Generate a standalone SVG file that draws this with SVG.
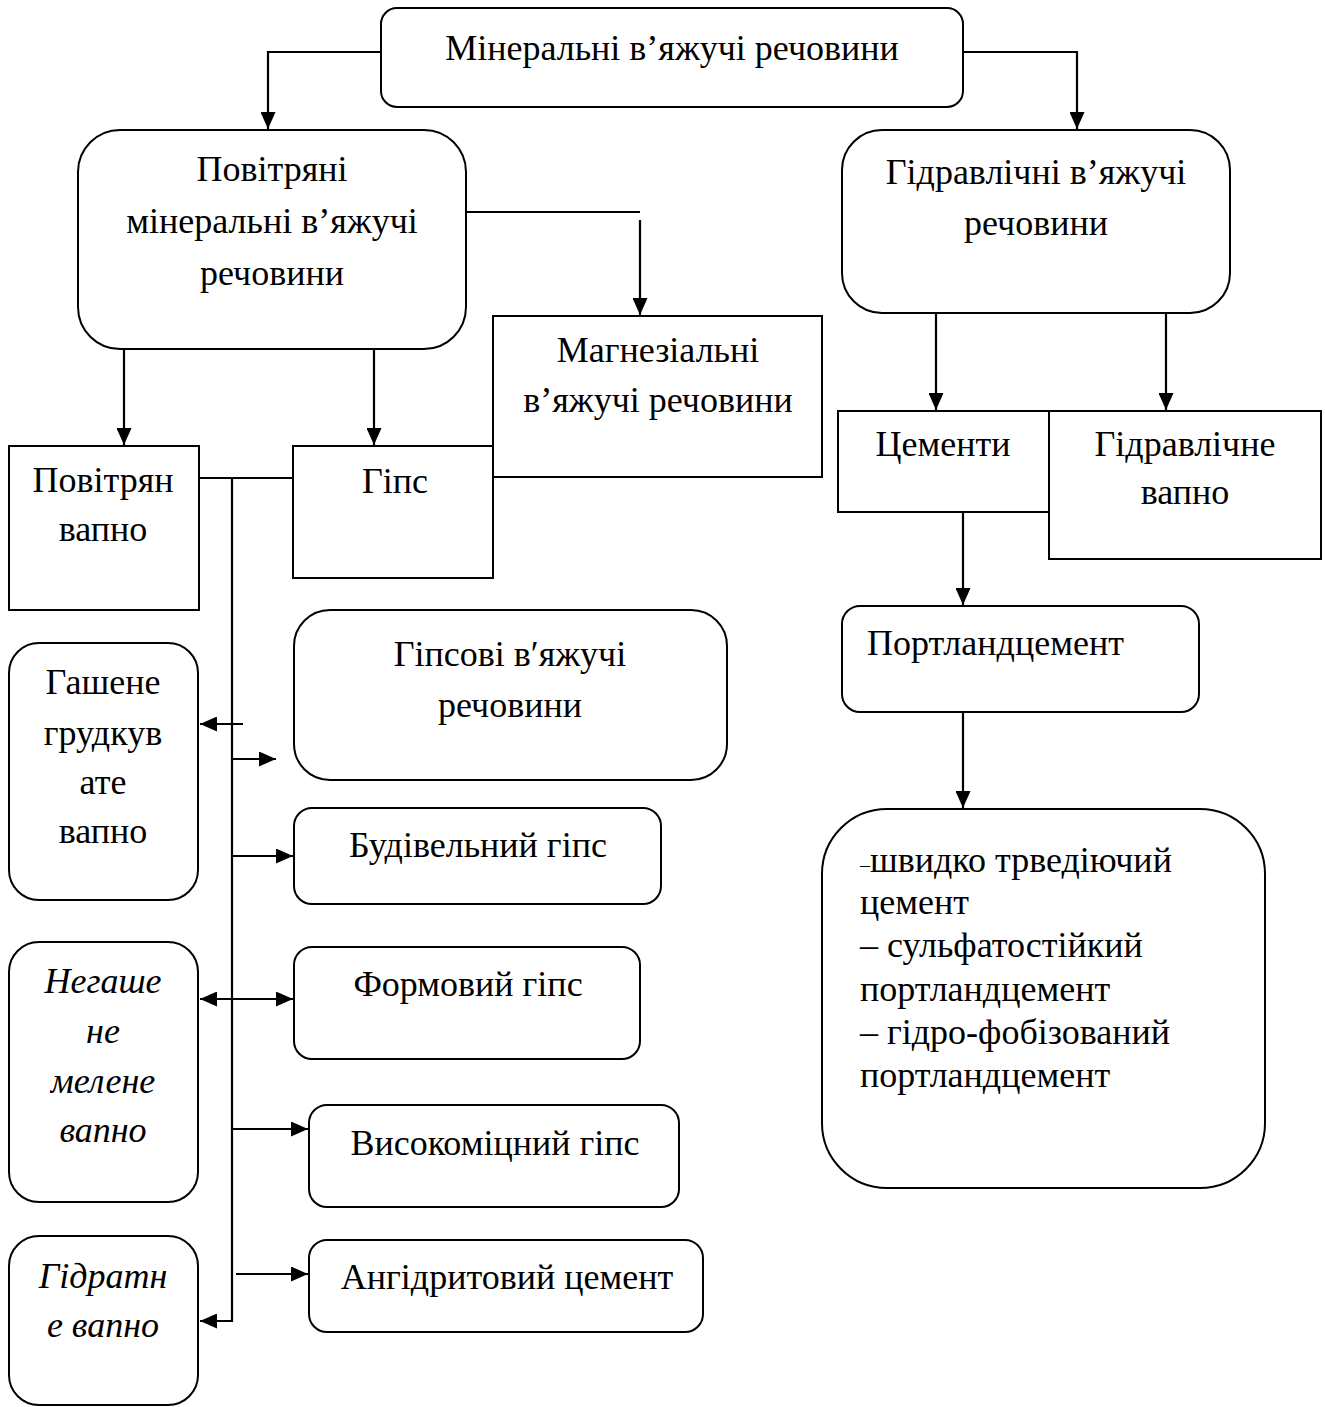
<svg xmlns="http://www.w3.org/2000/svg" width="1325" height="1407" viewBox="0 0 1325 1407">
<style>
.b{fill:#fff;stroke:#000;stroke-width:2}
.t{font-family:"Liberation Serif","Times New Roman",serif;font-size:36px;fill:#000}
.c{text-anchor:middle}
.i{font-style:italic}
.l{fill:none;stroke:#000;stroke-width:2.2}
</style>
<defs>
<marker id="ah" markerUnits="userSpaceOnUse" markerWidth="17" markerHeight="15" refX="17" refY="7.5" orient="auto-start-reverse" viewBox="0 0 17 15">
<path d="M0,0 L17,7.5 L0,15 z" fill="#000"/>
</marker>
</defs>
<rect width="1325" height="1407" fill="#fff"/>
<g id="connectors">
<path class="l" d="M381,52 H268 V129" marker-end="url(#ah)"/>
<path class="l" d="M963,52 H1077 V129" marker-end="url(#ah)"/>
<path class="l" d="M466,212 H640"/>
<path class="l" d="M640,220 V315" marker-end="url(#ah)"/>
<path class="l" d="M124,349 V445" marker-end="url(#ah)"/>
<path class="l" d="M374,349 V445" marker-end="url(#ah)"/>
<path class="l" d="M199,478 H293"/>
<path class="l" d="M232,478 V1321 H200" marker-end="url(#ah)"/>
<path class="l" d="M243,724 H200" marker-end="url(#ah)"/>
<path class="l" d="M232,759 H276" marker-end="url(#ah)"/>
<path class="l" d="M232,856 H293" marker-end="url(#ah)"/>
<path class="l" d="M200,999 H293" marker-start="url(#ah)" marker-end="url(#ah)"/>
<path class="l" d="M232,1129 H308" marker-end="url(#ah)"/>
<path class="l" d="M236,1274 H308" marker-end="url(#ah)"/>
<path class="l" d="M936,313 V410" marker-end="url(#ah)"/>
<path class="l" d="M1166,313 V410" marker-end="url(#ah)"/>
<path class="l" d="M963,512 V605" marker-end="url(#ah)"/>
<path class="l" d="M963,712 V808" marker-end="url(#ah)"/>
</g>
<g id="n-mineral">
<rect class="b" x="381" y="8" width="582" height="99" rx="16"/>
<text class="t c" x="672" y="60">Мінеральні в’яжучі речовини</text>
</g>
<g id="n-povitriani">
<rect class="b" x="78" y="130" width="388" height="219" rx="42"/>
<text class="t c" x="272" y="181">Повітряні</text>
<text class="t c" x="272" y="233">мінеральні в’яжучі</text>
<text class="t c" x="272" y="285">речовини</text>
</g>
<g id="n-hidravlichni">
<rect class="b" x="842" y="130" width="388" height="183" rx="40"/>
<text class="t c" x="1036" y="184">Гідравлічні в’яжучі</text>
<text class="t c" x="1036" y="235">речовини</text>
</g>
<g id="n-magnez">
<rect class="b" x="493" y="316" width="329" height="161"/>
<text class="t c" x="658" y="362">Магнезіальні</text>
<text class="t c" x="658" y="412">в’яжучі речовини</text>
</g>
<g id="n-povitr-vapno">
<rect class="b" x="9" y="446" width="190" height="164"/>
<text class="t c" x="103" y="492">Повітрян</text>
<text class="t c" x="103" y="541">вапно</text>
</g>
<g id="n-gips">
<rect class="b" x="293" y="446" width="200" height="132"/>
<text class="t c" x="395" y="493">Гіпс</text>
</g>
<g id="n-cementy">
<rect class="b" x="838" y="411" width="211" height="101"/>
<text class="t c" x="943" y="456">Цементи</text>
</g>
<g id="n-hidr-vapno">
<rect class="b" x="1049" y="411" width="272" height="148"/>
<text class="t c" x="1185" y="456">Гідравлічне</text>
<text class="t c" x="1185" y="504">вапно</text>
</g>
<g id="n-portland">
<rect class="b" x="842" y="606" width="357" height="106" rx="18"/>
<text class="t" x="867" y="655">Портландцемент</text>
</g>
<g id="n-gipsovi">
<rect class="b" x="294" y="610" width="433" height="170" rx="36"/>
<text class="t c" x="510" y="666">Гіпсові в′яжучі</text>
<text class="t c" x="510" y="717">речовини</text>
</g>
<g id="n-gashene">
<rect class="b" x="9" y="643" width="189" height="257" rx="30"/>
<text class="t c" x="103" y="694">Гашене</text>
<text class="t c" x="103" y="745">грудкув</text>
<text class="t c" x="103" y="794">ате</text>
<text class="t c" x="103" y="843">вапно</text>
</g>
<g id="n-budivelnyi">
<rect class="b" x="294" y="808" width="367" height="96" rx="18"/>
<text class="t c" x="478" y="857">Будівельний гіпс</text>
</g>
<g id="n-formovyi">
<rect class="b" x="294" y="947" width="346" height="112" rx="18"/>
<text class="t c" x="468" y="996">Формовий гіпс</text>
</g>
<g id="n-negashene">
<rect class="b" x="9" y="942" width="189" height="260" rx="30"/>
<text class="t c i" x="103" y="993">Негаше</text>
<text class="t c i" x="103" y="1043">не</text>
<text class="t c i" x="103" y="1093">мелене</text>
<text class="t c i" x="103" y="1142">вапно</text>
</g>
<g id="n-vysokomitsnyi">
<rect class="b" x="309" y="1105" width="370" height="102" rx="18"/>
<text class="t c" x="495" y="1155">Високоміцний гіпс</text>
</g>
<g id="n-angidryt">
<rect class="b" x="309" y="1240" width="394" height="92" rx="18"/>
<text class="t c" x="507" y="1289">Ангідритовий цемент</text>
</g>
<g id="n-hidratne">
<rect class="b" x="9" y="1236" width="189" height="169" rx="30"/>
<text class="t c i" x="103" y="1288">Гідратн</text>
<text class="t c i" x="103" y="1337">е вапно</text>
</g>
<g id="n-vydy">
<rect class="b" x="822" y="809" width="443" height="379" rx="65"/>
<text class="t" x="860" y="872"><tspan font-size="20">–</tspan>швидко трведіючий</text>
<text class="t" x="860" y="914">цемент</text>
<text class="t" x="860" y="957">– сульфатостійкий</text>
<text class="t" x="860" y="1001">портландцемент</text>
<text class="t" x="860" y="1044">– гідро-фобізований</text>
<text class="t" x="860" y="1087">портландцемент</text>
</g>
</svg>
